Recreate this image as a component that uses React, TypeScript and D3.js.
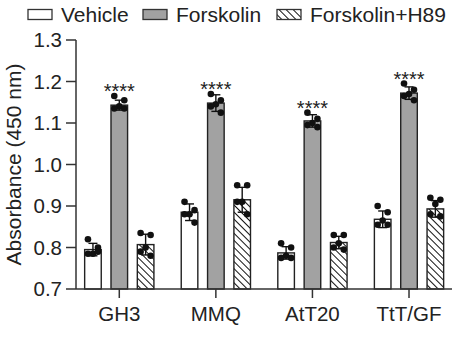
import React from "react";
import * as d3 from "d3";

const categories = ["GH3", "MMQ", "AtT20", "TtT/GF"];
const series = ["Vehicle", "Forskolin", "Forskolin+H89"];
const yTicks = [0.7, 0.8, 0.9, 1.0, 1.1, 1.2, 1.3];

// means [category][series]
const vehicleMeans = [0.795, 0.885, 0.787, 0.868];
const forskolinMeans = [1.143, 1.148, 1.105, 1.172];
const h89Means = [0.807, 0.915, 0.812, 0.893];

const vehicleSD = [0.015, 0.02, 0.015, 0.02];
const forskolinSD = [0.012, 0.02, 0.015, 0.015];
const h89SD = [0.025, 0.03, 0.015, 0.02];

const vehicleDots = [
  [0.82, 0.8, 0.785, 0.785, 0.79],
  [0.91, 0.89, 0.88, 0.88, 0.86],
  [0.81, 0.8, 0.78, 0.775, 0.775],
  [0.9, 0.885, 0.865, 0.855, 0.855],
];
const forskolinDots = [
  [1.165, 1.155, 1.14, 1.135, 1.135],
  [1.17, 1.155, 1.145, 1.14, 1.125],
  [1.125, 1.11, 1.1, 1.095, 1.09],
  [1.195, 1.18, 1.17, 1.165, 1.155],
];
const h89Dots = [
  [0.835, 0.83, 0.8, 0.79, 0.78],
  [0.95, 0.95, 0.91, 0.91, 0.88],
  [0.83, 0.83, 0.81, 0.8, 0.795],
  [0.92, 0.915, 0.905, 0.88, 0.875],
];
const significance = ["****", "****", "****", "****"];

const means = [vehicleMeans, forskolinMeans, h89Means];
const sds = [vehicleSD, forskolinSD, h89SD];
const dots = [vehicleDots, forskolinDots, h89Dots];

const W = 461;
const H = 342;
const FONT = "'Liberation Sans', Arial, sans-serif";
const AXIS = "#333";
const GRAY = "#a2a2a2";
const jitter = [-5, 5, 0, -5, 5];

export default function App() {
  const y = d3.scaleLinear().domain([0.7, 1.3]).range([289, 40]);
  const x0 = d3.scaleBand<string>().domain(categories).range([71, 457.3]).padding(0);
  const x1 = d3
    .scaleBand<string>()
    .domain(series)
    .range([-39.5, 39.5])
    .paddingInner(0.37)
    .paddingOuter(0.185);
  const bw = x1.bandwidth();

  const fills = ["#fff", GRAY, "url(#hatch)"];

  return (
    <svg
      width={W}
      height={H}
      style={{ position: "absolute", left: 0, top: 0, background: "#fff" }}
      fontFamily={FONT}
    >
      <defs>
        <pattern
          id="hatch"
          patternUnits="userSpaceOnUse"
          width={5}
          height={5}
          patternTransform="rotate(-45)"
        >
          <rect width={5} height={5} fill="#fff" />
          <line x1={0} y1={0} x2={0} y2={5} stroke="#111" strokeWidth={2} />
        </pattern>
      </defs>

      {/* Legend */}
      {series.map((s, i) => {
        const lx = [28, 143, 277][i];
        return (
          <g key={s}>
            <rect
              x={lx}
              y={9.5}
              width={24}
              height={10}
              fill={fills[i]}
              stroke={AXIS}
              strokeWidth={1.3}
            />
            <text x={lx + 33} y={22} fontSize={21} fill="#222">
              {s}
            </text>
          </g>
        );
      })}

      {/* Y axis */}
      <line x1={76} x2={76} y1={y(1.3)} y2={y(0.7)} stroke={AXIS} strokeWidth={1.5} />
      {yTicks.map((t) => (
        <g key={t}>
          <line x1={66} x2={76} y1={y(t)} y2={y(t)} stroke={AXIS} strokeWidth={1.5} />
          <text
            x={62}
            y={y(t)}
            dy="0.35em"
            textAnchor="end"
            fontSize={20.5}
            fill="#222"
          >
            {t.toFixed(1)}
          </text>
        </g>
      ))}
      <text
        transform={`translate(21,${(y(0.7) + y(1.3)) / 2}) rotate(-90)`}
        textAnchor="middle"
        fontSize={21}
        fill="#222"
      >
        Absorbance (450 nm)
      </text>

      {/* Bars */}
      {categories.map((c, ci) => {
        const cx = (x0(c) as number) + x0.bandwidth() / 2;
        return (
          <g key={c}>
            {series.map((s, si) => {
              const bx = cx + (x1(s) as number);
              const bc = bx + bw / 2;
              const m = means[si][ci];
              const sd = sds[si][ci];
              return (
                <g key={s}>
                  <rect
                    x={bx}
                    y={y(m)}
                    width={bw}
                    height={y(0.7) - y(m)}
                    fill={fills[si]}
                    stroke="#222"
                    strokeWidth={1.4}
                  />
                  <line x1={bc} x2={bc} y1={y(m - sd)} y2={y(m + sd)} stroke="#111" strokeWidth={1.4} />
                  <line x1={bc - 4.5} x2={bc + 4.5} y1={y(m + sd)} y2={y(m + sd)} stroke="#111" strokeWidth={1.4} />
                  <line x1={bc - 4.5} x2={bc + 4.5} y1={y(m - sd)} y2={y(m - sd)} stroke="#111" strokeWidth={1.4} />
                  {dots[si][ci].map((v, di) => (
                    <circle key={di} cx={bc + jitter[di]} cy={y(v)} r={3.3} fill="#111" />
                  ))}
                </g>
              );
            })}
            <text
              x={cx + (x1("Forskolin") as number) + bw / 2}
              y={y(d3.max(forskolinDots[ci]) as number) + 2}
              textAnchor="middle"
              fontSize={20}
              fill="#222"
            >
              {significance[ci]}
            </text>
          </g>
        );
      })}

      {/* X axis */}
      <line x1={76} x2={452} y1={y(0.7)} y2={y(0.7)} stroke={AXIS} strokeWidth={1.5} />
      {categories.map((c) => {
        const cx = (x0(c) as number) + x0.bandwidth() / 2;
        return (
          <g key={c}>
            <line x1={cx} x2={cx} y1={y(0.7)} y2={y(0.7) + 9} stroke={AXIS} strokeWidth={1.5} />
            <text x={cx} y={321} textAnchor="middle" fontSize={20.5} fill="#222">
              {c}
            </text>
          </g>
        );
      })}
    </svg>
  );
}
